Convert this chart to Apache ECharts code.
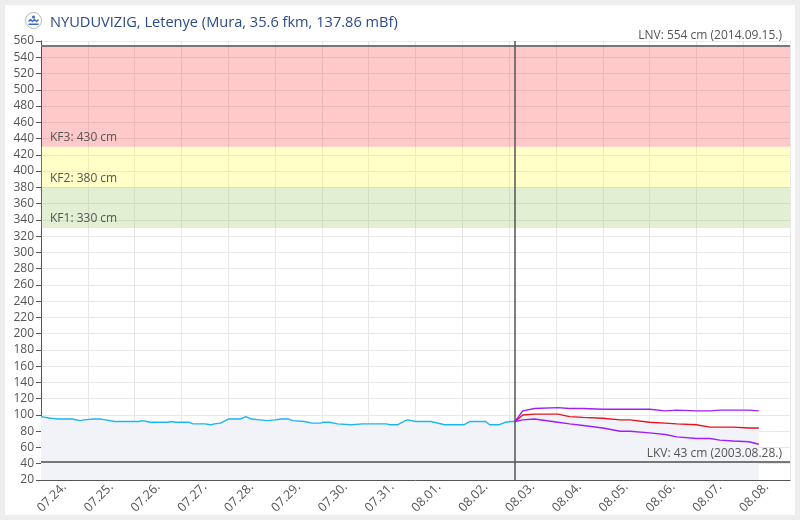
<!DOCTYPE html>
<html>
<head>
<meta charset="utf-8">
<script src="https://cdn.jsdelivr.net/npm/echarts@6/dist/echarts.min.js"></script>
<style>
html, body { margin: 0; padding: 0; background: #eeeeee; }
#chart { position: absolute; left: 5px; top: 5px; width: 790px; height: 510px; background: #fff; }
</style>
</head>
<body>
<div id="chart"></div>
<script>
// napok (kategoriak az x tengelyen)
var days = ['07.24.', '07.25.', '07.26.', '07.27.', '07.28.', '07.29.', '07.30.', '07.31.',
            '08.01.', '08.02.', '08.03.', '08.04.', '08.05.', '08.06.', '08.07.', '08.08.'];

// mert vizallas (ora 07.24. 00:00-tol, cm)
var obsHours = [0, 5, 9, 16, 20, 22, 27, 30, 33, 38, 50, 52, 56, 65, 67, 69, 76, 78, 84, 87,
                89, 92, 93, 96, 99, 102, 105, 108, 112, 116, 120, 123, 127, 129, 135, 139, 143, 145, 148, 152,
                159, 165, 173, 177, 179, 183, 186, 188, 192, 200, 207, 217, 220, 228, 230, 235, 238, 241, 243];
var obsLevels = [98, 96, 95, 95, 93, 94, 95, 95, 94, 92, 92, 93, 91, 91, 92, 91, 91, 89, 89, 88,
                 89, 90, 91, 95, 95, 95, 98, 95, 94, 93, 94, 95, 95, 93, 92, 90, 90, 91, 91, 89,
                 88, 89, 89, 89, 88, 88, 92, 94, 92, 92, 88, 88, 92, 92, 88, 88, 91, 92, 92];

// elorejelzes
var fcHours = [243, 247, 253, 265, 271, 278, 288, 297, 302, 312, 320, 326, 336, 343, 348, 355, 363, 368];
var fcMid   = [92, 100, 101, 101, 98, 97, 96, 94, 94, 91, 90, 89, 88, 85, 85, 85, 84, 84];
var fcHigh  = [92, 105, 108, 109, 108, 108, 107, 107, 107, 107, 105, 106, 105, 105, 106, 106, 106, 105];
var fcLow   = [92, 94, 95, 91, 89, 87, 84, 80, 80, 78, 76, 73, 71, 71, 69, 68, 67, 64];

var nowHour = 243;

// jelzoszintek
var bands = [
    { name: 'KF1: 330 cm', from: 330, to: 380, color: 'rgba(139,191,75,0.25)' },
    { name: 'KF2: 380 cm', from: 380, to: 430, color: 'rgba(255,255,0,0.22)' },
    { name: 'KF3: 430 cm', from: 430, to: 554, color: 'rgba(255,0,0,0.21)' }
];
var lnv = { value: 554, text: 'LNV: 554 cm (2014.09.15.)' };
var lkv = { value: 43, text: 'LKV: 43 cm (2003.08.28.)' };

function zip(xs, ys) {
    var out = [];
    for (var i = 0; i < xs.length; i++) {
        out.push([xs[i], ys[i]]);
    }
    return out;
}

var font = '"Open Sans", "Noto Sans", sans-serif';
var axisColor = '#555';
var gridColor = '#e8e8e8';
var areaFill = '#f2f3f8';

var myChart = echarts.init(document.getElementById('chart'));

var option = {
    animation: false,
    textStyle: { fontFamily: font },
    title: {
        text: 'NYUDUVIZIG, Letenye (Mura, 35.6 fkm, 137.86 mBf)',
        left: 40,
        top: 5,
        textStyle: { color: '#2b4a8b', fontSize: 14.6, fontWeight: 'normal', fontFamily: font }
    },
    graphic: [{
        type: 'group',
        left: 20,
        top: 7,
        children: [
            { type: 'circle', shape: { cx: 8, cy: 8, r: 8 }, style: { fill: '#fff', stroke: '#b5b5b5', lineWidth: 1 } },
            { type: 'polyline', shape: { points: [[3, 9], [5, 7], [7, 9], [9, 7], [11, 9], [13, 7]] },
              style: { stroke: '#3b6fc0', lineWidth: 1.5, fill: null } },
            { type: 'circle', shape: { cx: 8, cy: 4.5, r: 1.6 }, style: { fill: '#3b6fc0' } },
            { type: 'rect', shape: { x: 3, y: 11, width: 10, height: 1.5 }, style: { fill: '#3b6fc0' } }
        ]
    }],
    grid: { left: 36, right: 5, top: 36, bottom: 35, outerBoundsMode: 'none' },
    xAxis: [{
        type: 'category',
        data: days,
        boundaryGap: true,
        axisLine: { lineStyle: { color: axisColor, width: 1 } },
        axisTick: { inside: true, length: 5, lineStyle: { color: axisColor } },
        axisLabel: { rotate: 45, margin: 5, color: '#555', fontSize: 12.5, fontFamily: font },
        splitLine: { show: true, lineStyle: { color: gridColor } }
    }, {
        type: 'value',
        min: 0,
        max: days.length * 24,
        show: false
    }],
    yAxis: {
        type: 'value',
        min: 20,
        max: 560,
        interval: 20,
        axisLine: { show: true, lineStyle: { color: axisColor } },
        axisTick: { show: true, length: 5, lineStyle: { color: axisColor } },
        axisLabel: { margin: 7, color: '#555', fontSize: 12, fontFamily: font },
        splitLine: { lineStyle: { color: gridColor } }
    },
    series: [{
        name: 'mert',
        type: 'line',
        xAxisIndex: 1,
        data: zip(obsHours, obsLevels),
        symbol: 'none',
        lineStyle: { color: '#1db7ee', width: 1.4 },
        itemStyle: { color: '#1db7ee' },
        areaStyle: { color: areaFill, opacity: 1, origin: 'start' },
        markArea: {
            silent: true,
            data: bands.map(function (b) {
                return [{
                    name: b.name,
                    yAxis: b.from,
                    itemStyle: { color: b.color },
                    label: {
                        show: true, position: 'insideBottomLeft', distance: 3, offset: [6, 0],
                        color: '#555', fontSize: 12, fontFamily: font
                    }
                }, { yAxis: b.to }];
            })
        },
        markLine: {
            silent: true,
            symbol: ['none', 'none'],
            data: [{
                yAxis: lnv.value,
                lineStyle: { color: '#777', width: 2, type: 'solid' },
                label: { show: true, position: 'insideEndTop', formatter: lnv.text, distance: 4, offset: [-4, 0],
                         color: '#555', fontSize: 12, fontFamily: font }
            }, {
                yAxis: lkv.value,
                lineStyle: { color: '#777', width: 2, type: 'solid' },
                label: { show: true, position: 'insideEndTop', formatter: lkv.text, distance: 4, offset: [-4, 2],
                         color: '#555', fontSize: 12, fontFamily: font }
            }, {
                xAxis: nowHour,
                lineStyle: { color: '#555', width: 1.5, type: 'solid' },
                label: { show: false }
            }]
        }
    }, {
        name: 'elorejelzes',
        type: 'line',
        xAxisIndex: 1,
        data: zip(fcHours, fcMid),
        symbol: 'none',
        lineStyle: { color: '#e3141c', width: 1.4 },
        itemStyle: { color: '#e3141c' },
        areaStyle: { color: areaFill, opacity: 1, origin: 'start' }
    }, {
        name: 'felso',
        type: 'line',
        xAxisIndex: 1,
        data: zip(fcHours, fcHigh),
        symbol: 'none',
        lineStyle: { color: '#a01ff2', width: 1.4 },
        itemStyle: { color: '#a01ff2' }
    }, {
        name: 'also',
        type: 'line',
        xAxisIndex: 1,
        data: zip(fcHours, fcLow),
        symbol: 'none',
        lineStyle: { color: '#a01ff2', width: 1.4 },
        itemStyle: { color: '#a01ff2' }
    }]
};

myChart.setOption(option);
</script>
</body>
</html>
